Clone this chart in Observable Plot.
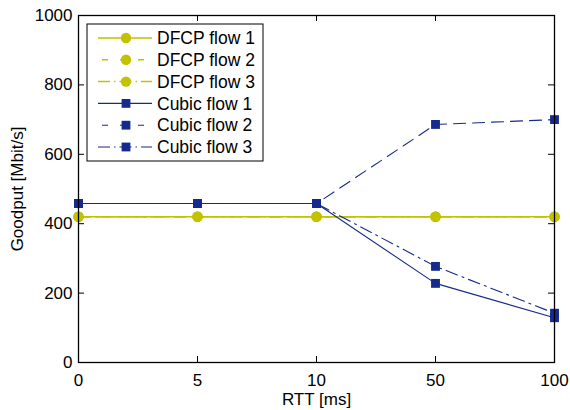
<!DOCTYPE html>
<html>
<head>
<meta charset="utf-8">
<script src="https://cdn.jsdelivr.net/npm/d3@7"></script>
<script src="https://cdn.jsdelivr.net/npm/@observablehq/plot@0.6"></script>
<style>
  html, body { margin: 0; padding: 0; background: #fff; }
  #chart { position: relative; width: 570px; height: 410px; }
</style>
</head>
<body>
<div id="chart"></div>
<script>
const rtt = ["0", "5", "10", "50", "100"];
const yTicks = [0, 200, 400, 600, 800, 1000];
const seriesNames = ["DFCP flow 1", "DFCP flow 2", "DFCP flow 3", "Cubic flow 1", "Cubic flow 2", "Cubic flow 3"];
const dfcp1 = [420, 420, 420, 420, 420];
const dfcp2 = [420, 420, 420, 420, 420];
const dfcp3 = [420, 420, 420, 420, 420];
const cubic1 = [458, 458, 458, 228, 129];
const cubic2 = [458, 458, 458, 686, 700];
const cubic3 = [458, 458, 458, 277, 142];

const yellow = "#c2c200";
const blue = "#142a8c";
const DASH = "12,7", DASHDOT = "12,5,2,5";
const styles = {
  "DFCP flow 1": {color: yellow, dash: null, symbol: "circle", width: 1.5},
  "DFCP flow 2": {color: yellow, dash: DASH, symbol: "circle", width: 1.5},
  "DFCP flow 3": {color: yellow, dash: DASHDOT, symbol: "circle", width: 1.5},
  "Cubic flow 1": {color: blue, dash: null, symbol: "square", width: 1.1},
  "Cubic flow 2": {color: blue, dash: DASH, symbol: "square", width: 1.1},
  "Cubic flow 3": {color: blue, dash: DASHDOT, symbol: "square", width: 1.1}
};
const allValues = [dfcp1, dfcp2, dfcp3, cubic1, cubic2, cubic3];
const rows = [];
seriesNames.forEach((s, i) => rtt.forEach((x, j) => rows.push({series: s, x, y: allValues[i][j]})));

const W = 570, H = 410, mL = 78, mR = 16, mT = 15, mB = 48;
const pw = W - mL - mR, ph = H - mT - mB;
const tick = 6;
const FS = 17;

const marks = [];
seriesNames.forEach(s => {
  const st = styles[s];
  const d = rows.filter(r => r.series === s);
  marks.push(Plot.line(d, {x: "x", y: "y", stroke: st.color, strokeWidth: st.width, strokeDasharray: st.dash}));
});
seriesNames.forEach(s => {
  const st = styles[s];
  const d = rows.filter(r => r.series === s);
  marks.push(Plot.dot(d, {x: "x", y: "y", fill: st.color, stroke: "none", symbol: st.symbol, r: st.symbol === "circle" ? 5.2 : 5}));
});

const chart = Plot.plot({
  width: W, height: H,
  marginLeft: mL, marginRight: mR, marginTop: mT, marginBottom: mB,
  style: {fontFamily: "'Liberation Sans', Arial, sans-serif", fontSize: FS + "px", color: "#000", background: "#fff"},
  x: {type: "point", domain: rtt, padding: 0},
  y: {domain: [0, 1000]},
  marks: [
    Plot.axisX(rtt, {tickSize: 0, tickPadding: 11, label: "RTT [ms]", labelAnchor: "center", labelArrow: "none", labelOffset: 42, fontSize: FS}),
    Plot.axisY(yTicks, {tickSize: 0, tickPadding: 6, tickFormat: d => String(d), label: "Goodput [Mbit/s]", labelAnchor: "center", labelArrow: "none", labelOffset: 68, fontSize: FS}),
    Plot.ruleX(rtt, {x: d => d, insetTop: ph - tick, stroke: "#000"}),
    Plot.ruleX(rtt, {x: d => d, insetBottom: ph - tick, stroke: "#000"}),
    Plot.ruleY(yTicks, {y: d => d, insetRight: pw - tick, stroke: "#000"}),
    Plot.ruleY(yTicks, {y: d => d, insetLeft: pw - tick, stroke: "#000"}),
    ...marks,
    Plot.frame({stroke: "#000", strokeWidth: 1.3})
  ]
});
document.getElementById("chart").appendChild(chart);

// Legend drawn inside the SVG, top-left of the plot area
const svg = d3.select(chart);
const lg = svg.append("g").attr("font-family", "'Liberation Sans', Arial, sans-serif").attr("font-size", 17.5).attr("text-anchor", "start");
const bx = 87, by = 24, bw = 176, bh = 137, rowH = 21.8, y0 = 38;
lg.append("rect").attr("x", bx).attr("y", by).attr("width", bw).attr("height", bh)
  .attr("fill", "#fff").attr("stroke", "#000").attr("stroke-width", 1);
seriesNames.forEach((s, i) => {
  const st = styles[s];
  const yy = y0 + i * rowH;
  lg.append("line").attr("x1", 98).attr("x2", 152).attr("y1", yy).attr("y2", yy)
    .attr("stroke", st.color).attr("stroke-width", st.width)
    .attr("stroke-dasharray", st.dash ? (st.dash === DASH ? "6,12" : "12,4,1.5,4") : null)
    .attr("stroke-dashoffset", st.dash === DASH ? -4 : 0);
  if (st.symbol === "circle") {
    lg.append("circle").attr("cx", 126).attr("cy", yy).attr("r", 5.2).attr("fill", st.color);
  } else {
    lg.append("rect").attr("x", 126 - 4.4).attr("y", yy - 4.4).attr("width", 8.8).attr("height", 8.8).attr("fill", st.color);
  }
  lg.append("text").attr("x", 157).attr("y", yy).attr("dy", "0.35em").attr("text-anchor", "start").attr("fill", "#000").text(s);
});
</script>
</body>
</html>
